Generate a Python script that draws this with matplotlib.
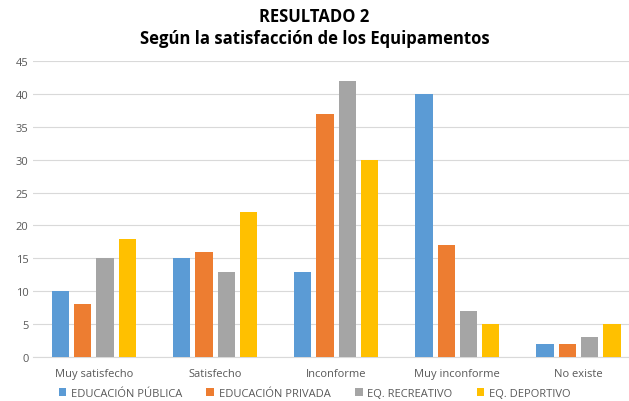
import matplotlib.pyplot as plt
import numpy as np

plt.rcParams['font.family'] = ['Open Sans', 'DejaVu Sans']

categorias = ["Muy satisfecho", "Satisfecho", "Inconforme", "Muy inconforme", "No existe"]
series = ["EDUCACIÓN PÚBLICA", "EDUCACIÓN PRIVADA", "EQ. RECREATIVO", "EQ. DEPORTIVO"]
publica = [10, 15, 13, 40, 2]
privada = [8, 16, 37, 17, 2]
recreativo = [15, 13, 42, 7, 3]
deportivo = [18, 22, 30, 5, 5]
colores = ["#5B9BD5", "#ED7D31", "#A5A5A5", "#FFC000"]

fig = plt.figure(figsize=(6.29, 4.02), dpi=100)
# the original picture is cropped on the right, so the axes run past the edge
ax = fig.add_axes([0.053, 0.1095, 0.963, 0.736])

x = np.arange(len(categorias))
paso = 0.184
ancho = 0.143
for i, (vals, nombre) in enumerate(zip([publica, privada, recreativo, deportivo], series)):
    ax.bar(x + (i - 1.5) * paso, vals, ancho, color=colores[i], label=nombre, zorder=3)

ax.set_xlim(-0.5, len(categorias) - 0.5)
ax.set_ylim(0, 45)
ax.set_yticks(range(0, 46, 5))
ax.set_xticks(x)
ax.set_xticklabels(categorias)
ax.tick_params(axis='both', length=0, labelsize=8, colors='#595959')
ax.tick_params(axis='x', pad=8)
ax.grid(axis='y', color='#D9D9D9', linewidth=0.8, zorder=0)
for s in ['top', 'right', 'left']:
    ax.spines[s].set_visible(False)
ax.spines['bottom'].set_color('#D9D9D9')

fig.text(0.5, 0.958, "RESULTADO 2", ha='center', va='center', fontsize=12, fontweight='bold')
fig.text(0.5, 0.903, "Según la satisfacción de los Equipamentos", ha='center', va='center',
         fontsize=12, fontweight='bold')

leg = fig.legend(loc='center', bbox_to_anchor=(0.5, 0.018), ncol=4, frameon=False, fontsize=8,
                 handlelength=0.7, handleheight=0.7, handletextpad=0.4, columnspacing=2.2)
for t in leg.get_texts():
    t.set_color('#595959')

fig.savefig("out.png", dpi=100)
